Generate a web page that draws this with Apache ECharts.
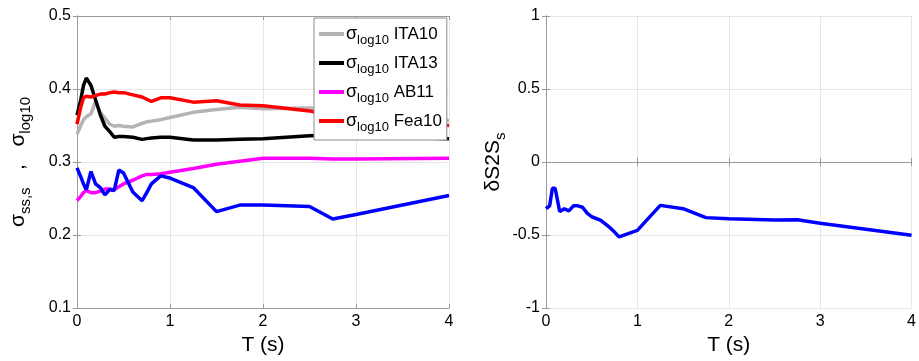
<!DOCTYPE html>
<html>
<head>
<meta charset="utf-8">
<script src="https://cdn.jsdelivr.net/npm/echarts@6/dist/echarts.min.js"></script>
<style>
  html, body { margin: 0; padding: 0; background: #ffffff; }
  #chart { width: 919px; height: 361px; }
</style>
</head>
<body>
<div id="chart"></div>
<script>
// Spectral periods T (s) shared by every curve
const periods = [0, 0.04, 0.07, 0.1, 0.15, 0.2, 0.25, 0.3, 0.35, 0.4, 0.45, 0.5, 0.6, 0.7, 0.75, 0.8, 0.9, 1.0, 1.25, 1.5, 1.75, 2.0, 2.5, 2.75, 3.0, 4.0];

// Single-station standard deviation (blue)
const sigmaSS = [0.292, 0.280, 0.270, 0.262, 0.287, 0.270, 0.265, 0.255, 0.262, 0.261, 0.289, 0.285, 0.259, 0.247, 0.258, 0.270, 0.281, 0.278, 0.265, 0.232, 0.241, 0.241, 0.239, 0.222, 0.228, 0.254];

// Total sigma of the reference GMPEs
const sigmaITA10 = [0.338, 0.350, 0.358, 0.362, 0.366, 0.383, 0.368, 0.360, 0.352, 0.349, 0.350, 0.349, 0.348, 0.353, 0.355, 0.356, 0.358, 0.361, 0.368, 0.372, 0.375, 0.373, 0.374, 0.372, 0.368, 0.357];
const sigmaITA13 = [0.364, 0.385, 0.405, 0.415, 0.405, 0.385, 0.365, 0.349, 0.342, 0.334, 0.335, 0.335, 0.334, 0.331, 0.332, 0.333, 0.334, 0.334, 0.330, 0.330, 0.331, 0.332, 0.336, 0.337, 0.336, 0.332];
const sigmaAB11 = [0.247, 0.253, 0.258, 0.261, 0.258, 0.258, 0.260, 0.263, 0.263, 0.262, 0.266, 0.270, 0.275, 0.281, 0.283, 0.283, 0.284, 0.286, 0.291, 0.297, 0.301, 0.305, 0.305, 0.304, 0.304, 0.305];
const sigmaFea10 = [0.352, 0.375, 0.388, 0.390, 0.389, 0.391, 0.393, 0.393, 0.395, 0.396, 0.395, 0.395, 0.392, 0.389, 0.386, 0.383, 0.388, 0.388, 0.382, 0.384, 0.378, 0.377, 0.370, 0.362, 0.357, 0.350];

// Site term delta S2S_s (right panel)
const dS2S = [-0.32, -0.30, -0.18, -0.18, -0.34, -0.32, -0.335, -0.30, -0.30, -0.31, -0.35, -0.375, -0.40, -0.45, -0.48, -0.513, -0.49, -0.468, -0.297, -0.32, -0.381, -0.388, -0.398, -0.395, -0.42, -0.502];

const legendNames = ['ITA10', 'ITA13', 'AB11', 'Fea10'];
const xTicks = { min: 0, max: 4, interval: 1 };
const leftTicks = { min: 0.1, max: 0.5, interval: 0.1 };
const rightTicks = { min: -1, max: 1, interval: 0.5 };

const FONT = 'Liberation Sans, Arial, Helvetica, sans-serif';
const AXIS_COLOR = '#9a9a9a';
const GRID_COLOR = '#e6e6e6';

function pairs(vals) { return periods.map((t, i) => [t, vals[i]]); }

function mainX(gridIndex) {
  return {
    type: 'value', gridIndex, min: xTicks.min, max: xTicks.max, interval: xTicks.interval,
    name: 'T (s)', nameLocation: 'middle', nameGap: 27,
    nameTextStyle: { fontSize: 21, color: '#000', fontFamily: FONT },
    axisLine: { show: true, lineStyle: { color: AXIS_COLOR, width: 1 } },
    axisTick: { show: true, inside: true, length: 4, lineStyle: { color: AXIS_COLOR } },
    axisLabel: { fontSize: 16, color: '#000', margin: 6, fontFamily: FONT },
    splitLine: { show: true, lineStyle: { color: GRID_COLOR, width: 1 } }
  };
}
function frameX(gridIndex) {
  return {
    type: 'value', gridIndex, position: 'top', min: xTicks.min, max: xTicks.max, interval: xTicks.interval,
    axisLine: { show: true, lineStyle: { color: AXIS_COLOR, width: 1 } },
    axisTick: { show: true, inside: true, length: 4, lineStyle: { color: AXIS_COLOR } },
    axisLabel: { show: false }, splitLine: { show: false }
  };
}
function mainY(gridIndex, ticks, name, gap, rich, fmt) {
  return {
    type: 'value', gridIndex, min: ticks.min, max: ticks.max, interval: ticks.interval,
    name, nameLocation: 'middle', nameGap: gap,
    nameTextStyle: { color: '#000', fontFamily: FONT, rich },
    axisLine: { show: true, lineStyle: { color: AXIS_COLOR, width: 1 } },
    axisTick: { show: true, inside: true, length: 4, lineStyle: { color: AXIS_COLOR } },
    axisLabel: { fontSize: 16, color: '#000', margin: 6, fontFamily: FONT, formatter: fmt },
    splitLine: { show: true, lineStyle: { color: GRID_COLOR, width: 1 } }
  };
}
function frameY(gridIndex, ticks) {
  return {
    type: 'value', gridIndex, position: 'right', min: ticks.min, max: ticks.max, interval: ticks.interval,
    axisLine: { show: true, lineStyle: { color: AXIS_COLOR, width: 1 } },
    axisTick: { show: true, inside: true, length: 4, lineStyle: { color: AXIS_COLOR } },
    axisLabel: { show: false }, splitLine: { show: false }
  };
}

const nameRich = {
  m: { fontSize: 21, lineHeight: 30, fontFamily: FONT, color: '#000' },
  s: { fontSize: 15, lineHeight: 15, verticalAlign: 'bottom', fontFamily: FONT, color: '#000' }
};
const legendRich = {
  g: { fontSize: 18, lineHeight: 26, fontFamily: FONT, color: '#000' },
  s: { fontSize: 13, lineHeight: 13, verticalAlign: 'bottom', fontFamily: FONT, color: '#000' },
  t: { fontSize: 17, lineHeight: 26, fontFamily: FONT, color: '#000' }
};

function lineSeries(name, vals, color, xi, yi, z) {
  return {
    type: 'line', name, data: pairs(vals), xAxisIndex: xi, yAxisIndex: yi,
    showSymbol: false, symbol: 'none', smooth: false, z,
    lineStyle: { color, width: 3.5 }, itemStyle: { color },
    emphasis: { disabled: true }, animation: false
  };
}

const chart = echarts.init(document.getElementById('chart'), null, { renderer: 'canvas' });
chart.setOption({
  animation: false,
  textStyle: { fontFamily: FONT },
  grid: [
    { left: 77, top: 16, width: 372, height: 292, containLabel: false },
    { left: 546, top: 16, width: 366, height: 292, containLabel: false }
  ],
  xAxis: [mainX(0), frameX(0), mainX(1), frameX(1)],
  yAxis: [
    mainY(0, leftTicks, '{m|σ}{s|ss,s}{m|   ,   σ}{s|log10}', 44, nameRich, v => v.toFixed(1)),
    frameY(0, leftTicks),
    mainY(1, rightTicks, '{m|δS2S}{s|s}', 36, nameRich, v => String(Math.round(v * 10) / 10)),
    frameY(1, rightTicks)
  ],
  legend: {
    data: legendNames,
    orient: 'vertical',
    left: 314, top: 18,
    z: 20,
    backgroundColor: '#ffffff',
    borderColor: '#8a8a8a', borderWidth: 1, borderRadius: 0,
    padding: [7, 5, 6, 5],
    itemGap: 7,
    itemWidth: 25, itemHeight: 4,
    icon: 'rect',
    selectedMode: false,
    formatter: n => '{g|σ}{s|log10}{t| ' + n + '}',
    textStyle: { rich: legendRich, padding: [0, 0, 0, -3] }
  },
  series: [
    lineSeries('ITA10', sigmaITA10, '#b4b4b4', 0, 0, 2),
    lineSeries('ITA13', sigmaITA13, '#000000', 0, 0, 3),
    lineSeries('AB11', sigmaAB11, '#ff00ff', 0, 0, 4),
    lineSeries('Fea10', sigmaFea10, '#ff0000', 0, 0, 5),
    lineSeries('sigmaSS', sigmaSS, '#0000ff', 0, 0, 6),
    lineSeries('dS2S', dS2S, '#0000ff', 2, 2, 6)
  ]
});
</script>
</body>
</html>
